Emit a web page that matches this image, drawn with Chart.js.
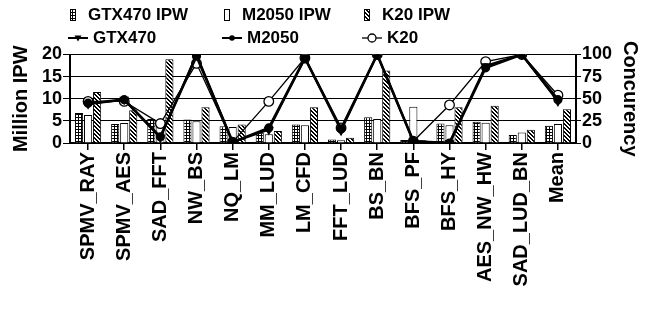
<!DOCTYPE html>
<html>
<head>
<meta charset="utf-8">
<script src="https://cdn.jsdelivr.net/npm/chart.js@4"></script>
<style>
html,body{margin:0;padding:0;background:#fff;}
#wrap{width:650px;height:311px;position:relative;}
</style>
</head>
<body>
<div id="wrap"><canvas id="c" width="650" height="311"></canvas></div>
<script>
const categories = ['SPMV_RAY','SPMV_AES','SAD_FFT','NW_BS','NQ_LM','MM_LUD','LM_CFD','FFT_LUD','BS_BN','BFS_PF','BFS_HY','AES_NW_HW','SAD_LUD_BN','Mean'];
const gtxIPW   = [6.8, 4.3, 5.4, 5.3, 3.8, 2.3, 4.2, 0.8, 5.8, 0.7, 4.4, 4.8, 1.8, 3.9];
const m2050IPW = [6.3, 4.5, 5.2, 4.9, 3.6, 2.0, 4.0, 0.6, 5.4, 8.2, 4.0, 4.6, 2.4, 4.3];
const k20IPW   = [11.5, 7.4, 18.9, 8.1, 4.2, 2.7, 8.1, 1.2, 16.4, 0.6, 8.1, 8.4, 3.0, 7.6];
const gtxConc   = [44, 49, 6, 100, 1, 15, 96, 14, 100, 2, 0, 87, 100, 47];
const m2050Conc = [45, 49, 7, 98, 1, 17, 96, 16, 100, 2, 0, 85, 100, 49];
const k20Conc   = [47, 47, 22, 90, 1, 47, 96, 17, 100, 2, 43, 92, 100, 54];
const leftTicks = [0, 5, 10, 15, 20];
const rightTicks = [0, 25, 50, 75, 100];
const labelsIPW = ['GTX470 IPW', 'M2050 IPW', 'K20 IPW'];
const labelsConc = ['GTX470', 'M2050', 'K20'];

const FONT = '"Liberation Sans", Arial, Helvetica, sans-serif';

function gridPattern(){
  const t = document.createElement('canvas'); t.width = 3; t.height = 3;
  const g = t.getContext('2d');
  g.fillStyle = '#fff'; g.fillRect(0,0,3,3);
  g.fillStyle = '#000'; g.fillRect(0,0,3,1); g.fillRect(0,0,1,3);
  return g.createPattern(t, 'repeat');
}
function hatchPattern(){
  const n = 4;
  const t = document.createElement('canvas'); t.width = n; t.height = n;
  const g = t.getContext('2d');
  g.fillStyle = '#fff'; g.fillRect(0,0,n,n);
  g.fillStyle = '#000';
  for (let i = 0; i < n; i++) { g.fillRect(i, i, 1, 1); g.fillRect((i + 1) % n, i, 1, 1); }
  return g.createPattern(t, 'repeat');
}
const pGrid = gridPattern();
const pHatch = hatchPattern();

const barCommon = {type:'bar', yAxisID:'y', borderColor:'#000', borderWidth:1, order:2,
  categoryPercentage:0.75, barPercentage:0.9};

const data = {
  labels: categories,
  datasets: [
    Object.assign({label: labelsIPW[0], data: gtxIPW, backgroundColor: pGrid}, barCommon),
    Object.assign({label: labelsIPW[1], data: m2050IPW, backgroundColor: '#fff'}, barCommon),
    Object.assign({label: labelsIPW[2], data: k20IPW, backgroundColor: pHatch}, barCommon),
    {type:'line', label: labelsConc[0], data: gtxConc, yAxisID:'y1', order:0,
     borderColor:'#000', borderWidth:2.2, pointStyle:'triangle', rotation:180,
     pointRadius:3.5, pointBackgroundColor:'#000', pointBorderColor:'#000', tension:0},
    {type:'line', label: labelsConc[1], data: m2050Conc, yAxisID:'y1', order:0,
     borderColor:'#000', borderWidth:2.6, pointStyle:'circle',
     pointRadius:3.3, pointBackgroundColor:'#000', pointBorderColor:'#000', tension:0},
    {type:'line', label: labelsConc[2], data: k20Conc, yAxisID:'y1', order:0,
     borderColor:'#000', borderWidth:1.3, pointStyle:'circle',
     pointRadius:4.8, pointBackgroundColor:'#fff', pointBorderColor:'#000', pointBorderWidth:1.3, tension:0}
  ]
};

const legendPlugin = {
  id: 'customLegend',
  afterDraw(chart){
    const ctx = chart.ctx;
    ctx.save();
    ctx.font = 'bold 17px ' + FONT;
    ctx.fillStyle = '#000';
    ctx.textBaseline = 'middle';
    ctx.textAlign = 'left';
    const colX = [68, 222, 362];
    const row1 = 15, row2 = 38;
    const fills = [pGrid, '#fff', pHatch];
    for (let i = 0; i < 3; i++) {
      ctx.fillStyle = fills[i];
      ctx.fillRect(colX[i] + 2, row1 - 6, 5, 11);
      ctx.strokeStyle = '#000'; ctx.lineWidth = 1;
      ctx.strokeRect(colX[i] + 2.5, row1 - 5.5, 5, 11);
      ctx.fillStyle = '#000';
      ctx.fillText(labelsIPW[i], colX[i] + 20, row1);
      const lx0 = colX[i], lx1 = colX[i] + 20, cx = (lx0 + lx1) / 2;
      ctx.beginPath(); ctx.moveTo(lx0, row2); ctx.lineTo(lx1, row2);
      ctx.lineWidth = i === 2 ? 1.3 : 2; ctx.stroke();
      if (i === 0) {
        ctx.beginPath(); ctx.moveTo(cx - 3.5, row2 - 2.5); ctx.lineTo(cx + 3.5, row2 - 2.5); ctx.lineTo(cx, row2 + 3.5); ctx.closePath(); ctx.fill();
      } else if (i === 1) {
        ctx.beginPath(); ctx.arc(cx, row2, 2.8, 0, Math.PI * 2); ctx.fill();
      } else {
        ctx.beginPath(); ctx.arc(cx, row2, 4, 0, Math.PI * 2); ctx.fillStyle = '#fff'; ctx.fill();
        ctx.lineWidth = 1.3; ctx.stroke(); ctx.fillStyle = '#000';
      }
      ctx.fillText(labelsConc[i], colX[i] + 25, row2);
    }
    ctx.restore();
  }
};

new Chart(document.getElementById('c'), {
  data: data,
  options: {
    responsive: false,
    devicePixelRatio: 1,
    animation: false,
    layout: {padding: {top: 54.5, left: 0, right: 0, bottom: 0}},
    plugins: {legend: {display: false}, tooltip: {enabled: false}},
    scales: {
      x: {
        type: 'category',
        offset: true,
        grid: {display: true, drawOnChartArea: false, offset: false, tickLength: 7, color: '#000', lineWidth: 1.5},
        border: {display: true, color: '#000', width: 2},
        ticks: {minRotation: 90, maxRotation: 90, autoSkip: false, padding: 2, color: '#000',
                font: {family: FONT, size: 20, weight: 'bold'}},
        afterFit(s){ s.height = 311 - 143; }
      },
      y: {
        position: 'left', min: 0, max: 20,
        afterBuildTicks(s){ s.ticks = leftTicks.map(v => ({value: v})); },
        grid: {color: '#000', lineWidth: 1, tickLength: 7},
        border: {display: true, color: '#000', width: 2},
        ticks: {autoSkip: false, padding: 1, color: '#000', font: {family: FONT, size: 18, weight: 'bold', lineHeight: 1}},
        title: {display: true, text: 'Million IPW', color: '#000', padding: {top: 9, bottom: 0},
                font: {family: FONT, size: 20, weight: 'bold'}},
        afterFit(s){ s.width = 70; }
      },
      y1: {
        position: 'right', min: 0, max: 100,
        afterBuildTicks(s){ s.ticks = rightTicks.map(v => ({value: v})); },
        grid: {drawOnChartArea: false, color: '#000', lineWidth: 1, tickLength: 5},
        border: {display: true, color: '#000', width: 2},
        ticks: {autoSkip: false, padding: 1, color: '#000', font: {family: FONT, size: 18, weight: 'bold', lineHeight: 1}},
        title: {display: true, text: 'Concurency', color: '#000', padding: {top: 8, bottom: 0},
                font: {family: FONT, size: 20, weight: 'bold'}},
        afterFit(s){ s.width = 74; }
      }
    }
  },
  plugins: [legendPlugin]
});
</script>
</body>
</html>
